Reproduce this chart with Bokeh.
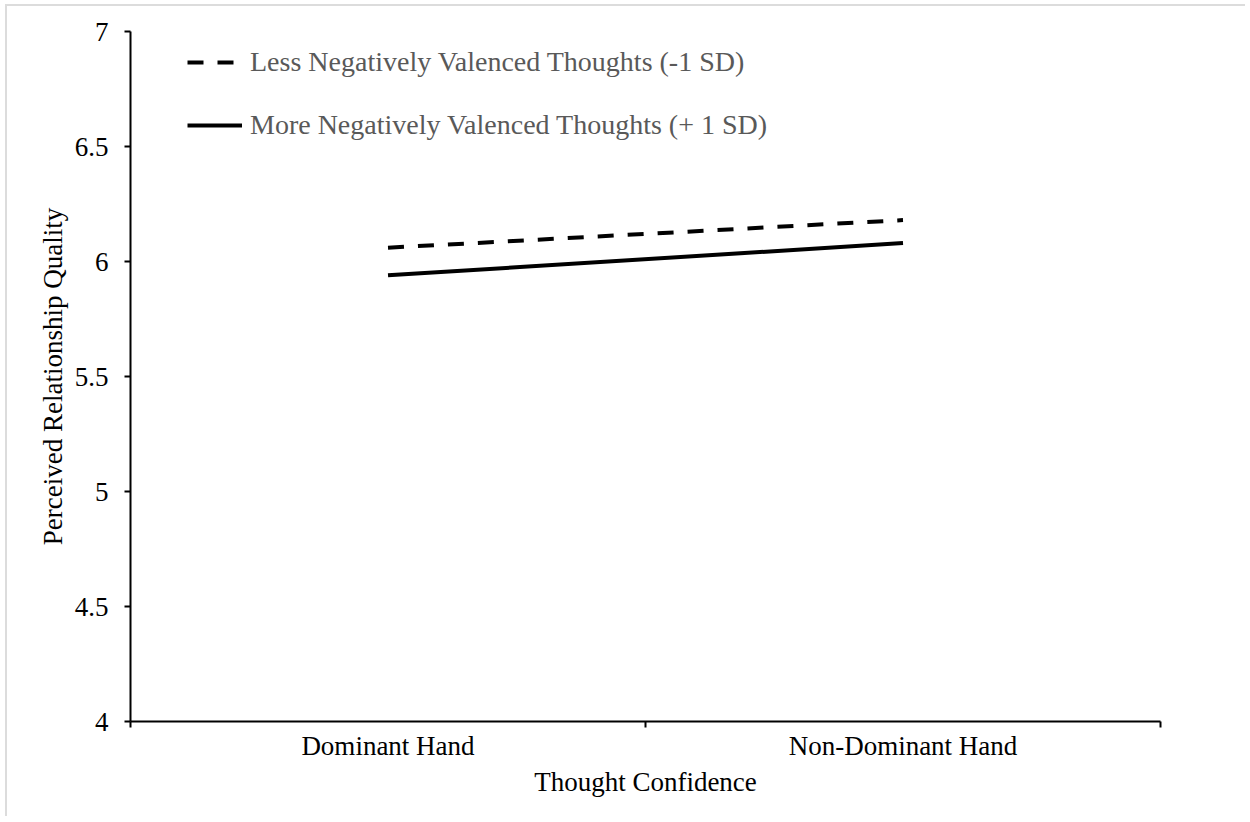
from bokeh.plotting import figure
from bokeh.models import FixedTicker, Legend, LegendItem, ColumnDataSource, CustomJSTickFormatter
from bokeh.embed import file_html
from bokeh.resources import INLINE

categories = ["Dominant Hand", "Non-Dominant Hand"]
less_negative = [6.06, 6.18]
more_negative = [5.94, 6.08]
series_labels = ["Less Negatively Valenced Thoughts (-1 SD)",
                 "More Negatively Valenced Thoughts (+ 1 SD)"]
y_ticks = [4, 4.5, 5, 5.5, 6, 6.5, 7]
x_title = "Thought Confidence"
y_title = "Perceived Relationship Quality"

FONT = "Liberation Serif"
FS = "27px"

xs = [i + 0.5 for i in range(len(categories))]
bounds = [i for i in range(len(categories) + 1)]

src = ColumnDataSource(dict(x=xs, less=less_negative, more=more_negative))

p = figure(width=1240, height=812, x_range=(0, len(categories)), y_range=(4, 7),
           output_backend="svg", toolbar_location=None,
           min_border_left=123, min_border_top=25, min_border_right=87, min_border_bottom=97,
           styles={"margin-left": "5px", "margin-top": "4px",
                   "border-top": "2px solid #dcdcdc", "border-left": "2px solid #dcdcdc"})
p.xgrid.visible = False
p.ygrid.visible = False
p.outline_line_color = None
p.background_fill_color = "white"
p.border_fill_color = "white"

r1 = p.line("x", "less", source=src, line_color="black", line_width=4, line_dash="16 14")
r2 = p.line("x", "more", source=src, line_color="black", line_width=4)

# x axis
xa = p.xaxis[0]
xa.ticker = FixedTicker(ticks=xs, minor_ticks=bounds)
xa.formatter = CustomJSTickFormatter(args=dict(labels=categories), code="return labels[index];")
xa.major_tick_line_color = None
xa.major_tick_out = 6
xa.major_tick_in = 0
xa.minor_tick_out = 6
xa.minor_tick_in = 0
xa.minor_tick_line_color = "black"
xa.minor_tick_line_width = 2
xa.axis_line_color = "black"
xa.axis_line_width = 2
xa.major_label_text_font = FONT
xa.major_label_text_font_size = FS
xa.major_label_text_color = "black"
xa.major_label_standoff = 3
xa.axis_label = x_title
xa.axis_label_text_font = FONT
xa.axis_label_text_font_size = FS
xa.axis_label_text_font_style = "normal"
xa.axis_label_text_color = "black"
xa.axis_label_standoff = 3

# y axis
ya = p.yaxis[0]
ya.ticker = FixedTicker(ticks=y_ticks, minor_ticks=[])
ya.formatter = CustomJSTickFormatter(code="return tick.toString();")
ya.major_tick_out = 6
ya.major_tick_in = 0
ya.major_tick_line_color = "black"
ya.major_tick_line_width = 2
ya.axis_line_color = "black"
ya.axis_line_width = 2
ya.major_label_text_font = FONT
ya.major_label_text_font_size = FS
ya.major_label_text_color = "black"
ya.major_label_standoff = 16
ya.axis_label = y_title
ya.axis_label_text_font = FONT
ya.axis_label_text_font_size = FS
ya.axis_label_text_font_style = "normal"
ya.axis_label_text_color = "black"
ya.axis_label_standoff = 4

legend = Legend(items=[LegendItem(label=series_labels[0], renderers=[r1]),
                       LegendItem(label=series_labels[1], renderers=[r2])],
                location=(57, 576), orientation="vertical",
                glyph_width=55, glyph_height=40, spacing=23, label_standoff=8,
                padding=0, margin=0, border_line_color=None, background_fill_alpha=0,
                label_text_font=FONT, label_text_font_size="28px", label_text_color="#595959")
p.add_layout(legend)

open("out.html", "w").write(file_html(p, INLINE))
